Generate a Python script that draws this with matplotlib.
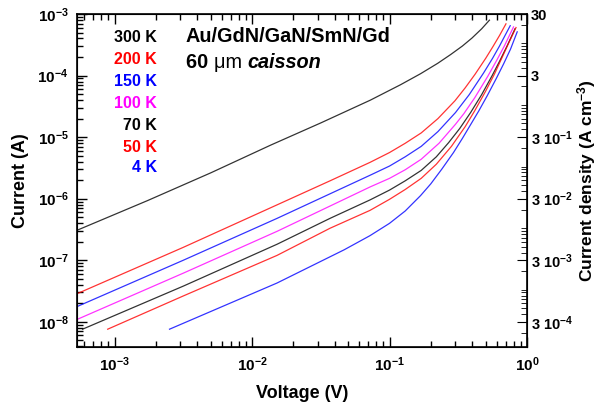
import matplotlib
matplotlib.use('Agg')
import matplotlib.pyplot as plt
from matplotlib import rcParams
from matplotlib.ticker import LogLocator, FixedLocator, FixedFormatter, NullFormatter

rcParams['font.family'] = 'Liberation Sans'
rcParams['font.weight'] = 'bold'
rcParams['axes.labelweight'] = 'bold'
rcParams['mathtext.default'] = 'regular'

# I-V curves at each temperature (voltage in V, current in A)
v_300 = [5.37e-4, 1.74e-3, 5.01e-3, 0.01365, 0.0316, 0.0724, 0.120, 0.168, 0.224,
         0.278, 0.339, 0.398, 0.468, 0.533]
i_300 = [3.09e-7, 9.33e-7, 2.63e-6, 7.41e-6, 1.70e-5, 3.98e-5, 7.08e-5, 1.07e-4, 1.58e-4,
         2.19e-4, 3.02e-4, 4.07e-4, 5.75e-4, 7.94e-4]

v_200 = [5.37e-4, 3.16e-3, 0.0152, 0.0369, 0.0721, 0.100, 0.130, 0.170, 0.225,
         0.299, 0.355, 0.419, 0.501, 0.565, 0.631, 0.703]
i_200 = [2.88e-8, 1.62e-7, 7.94e-7, 1.95e-6, 3.89e-6, 5.62e-6, 7.94e-6, 1.17e-5, 2.0e-5,
         3.89e-5, 6.31e-5, 1.05e-4, 1.91e-4, 2.95e-4, 4.47e-4, 6.92e-4]

v_150 = [5.37e-4, 3.16e-3, 0.0152, 0.0369, 0.0721, 0.100, 0.130, 0.170, 0.225,
         0.302, 0.380, 0.483, 0.562, 0.631, 0.692, 0.755]
i_150 = [1.78e-8, 1.0e-7, 4.79e-7, 1.20e-6, 2.40e-6, 3.39e-6, 4.79e-6, 7.08e-6, 1.23e-5,
         2.51e-5, 4.90e-5, 1.10e-4, 1.91e-4, 3.02e-4, 4.47e-4, 6.46e-4]

v_100 = [5.37e-4, 3.16e-3, 0.0152, 0.0369, 0.0721, 0.100, 0.130, 0.170, 0.229,
         0.302, 0.347, 0.417, 0.519, 0.603, 0.684, 0.798]
i_100 = [1.10e-8, 6.17e-8, 2.95e-7, 7.59e-7, 1.55e-6, 2.14e-6, 2.95e-6, 4.37e-6, 7.94e-6,
         1.62e-5, 2.40e-5, 4.37e-5, 9.77e-5, 1.78e-4, 3.02e-4, 6.17e-4]

v_70 = [5.85e-4, 3.16e-3, 0.0152, 0.0369, 0.0721, 0.100, 0.130, 0.170, 0.219,
        0.269, 0.324, 0.389, 0.468, 0.558, 0.631, 0.716, 0.818]
i_70 = [7.59e-9, 3.80e-8, 1.82e-7, 4.79e-7, 9.55e-7, 1.38e-6, 1.95e-6, 2.88e-6, 4.79e-6,
        8.13e-6, 1.38e-5, 2.51e-5, 4.90e-5, 1.0e-4, 1.70e-4, 3.02e-4, 5.75e-4]

v_50 = [8.91e-4, 3.16e-3, 0.0152, 0.0369, 0.0721, 0.100, 0.130, 0.170, 0.219,
        0.282, 0.355, 0.417, 0.501, 0.581, 0.661, 0.733, 0.832]
i_50 = [7.59e-9, 2.63e-8, 1.20e-7, 3.31e-7, 6.46e-7, 9.77e-7, 1.41e-6, 2.14e-6, 3.63e-6,
        7.08e-6, 1.48e-5, 2.69e-5, 5.62e-5, 1.07e-4, 2.0e-4, 3.31e-4, 6.03e-4]

v_4 = [2.51e-3, 0.0152, 0.0468, 0.0721, 0.100, 0.130, 0.168, 0.1995, 0.240,
       0.292, 0.339, 0.398, 0.447, 0.513, 0.597, 0.676, 0.759, 0.849]
i_4 = [7.59e-9, 4.27e-8, 1.48e-7, 2.51e-7, 3.98e-7, 6.31e-7, 1.12e-6, 1.74e-6, 3.02e-6,
       5.62e-6, 9.55e-6, 1.74e-5, 2.69e-5, 4.68e-5, 8.91e-5, 1.55e-4, 2.69e-4, 5.13e-4]

temp_labels = ['300 K', '200 K', '150 K', '100 K', '70 K', '50 K', '4 K']
colors = ['#000000', '#ff0000', '#0000ff', '#ff00ff', '#000000', '#ff0000', '#0000ff']

# current density axis: J = I * area factor
density_ticks = [30, 3, 0.3, 0.03, 0.003, 0.0003]
density_labels = ['30', '3', r'3 $10^{-1}$', r'3 $10^{-2}$', r'3 $10^{-3}$', r'3 $10^{-4}$']
density_factor = 3e4

W, H = 597, 408
fig = plt.figure(figsize=(W / 100, H / 100), dpi=100)
ax = fig.add_axes([77 / W, 1 - 347 / H, 450 / W, 333 / H])

curves = [(v_300, i_300), (v_200, i_200), (v_150, i_150), (v_100, i_100),
          (v_70, i_70), (v_50, i_50), (v_4, i_4)]
for (v, i), c in zip(curves, colors):
    ax.plot(v, i, color=c, lw=0.9, alpha=0.8)

ax.set_xscale('log')
ax.set_yscale('log')
ax.set_xlim(5.33e-4, 1)
ax.set_ylim(3.9e-9, 1e-3)

ax.xaxis.set_major_locator(LogLocator(base=10, numticks=10))
ax.xaxis.set_minor_locator(LogLocator(base=10, subs=range(2, 10), numticks=20))
ax.yaxis.set_major_locator(LogLocator(base=10, numticks=10))
ax.yaxis.set_minor_locator(LogLocator(base=10, subs=range(2, 10), numticks=20))
ax.tick_params(which='both', direction='in', top=True, right=False, width=1)
ax.tick_params(which='major', length=7, labelsize=11, pad=6)
ax.tick_params(which='minor', length=4)
for s in ax.spines.values():
    s.set_linewidth(1.2)

ax.set_xlabel('Voltage (V)', fontsize=13, labelpad=8)
ax.set_ylabel('Current (A)', fontsize=13, labelpad=6)

# right-hand axis in current density units
ax2 = ax.twinx()
ax2.set_yscale('log')
ax2.set_ylim(3.9e-9 * density_factor, 1e-3 * density_factor)
ax2.yaxis.set_major_locator(FixedLocator(density_ticks))
ax2.yaxis.set_major_formatter(FixedFormatter(density_labels))
ax2.yaxis.set_minor_locator(LogLocator(base=10, subs=range(1, 10), numticks=20))
ax2.yaxis.set_minor_formatter(NullFormatter())
ax2.tick_params(which='both', direction='in')
ax2.tick_params(which='major', length=7, labelsize=10.5, pad=3)
ax2.tick_params(which='minor', length=4)
ax2.set_ylabel(r'Current density (A cm$^{-3}$)', fontsize=12.5)
ax2.yaxis.set_label_coords(1.108, 0.5)

# temperature key
label_y = [37, 60, 81, 103, 125, 147, 168]
for txt, c, y in zip(temp_labels, colors, label_y):
    fig.text(157 / W, 1 - y / H, txt, color=c, fontsize=11.5,
             ha='right', va='center')

fig.text(186 / W, 1 - 37 / H, 'Au/GdN/GaN/SmN/Gd', fontsize=14.3, va='center')
t1 = fig.text(186 / W, 1 - 63 / H, '60 ', fontsize=14.3, va='center')
t2 = ax.annotate('\u03bcm ', xy=(1, 0), xycoords=t1, fontsize=14.3,
                 fontweight='normal', va='bottom')
ax.annotate('caisson', xy=(1, 0), xycoords=t2, fontsize=14.3,
            style='italic', va='bottom')

fig.savefig('out.png', dpi=100)
